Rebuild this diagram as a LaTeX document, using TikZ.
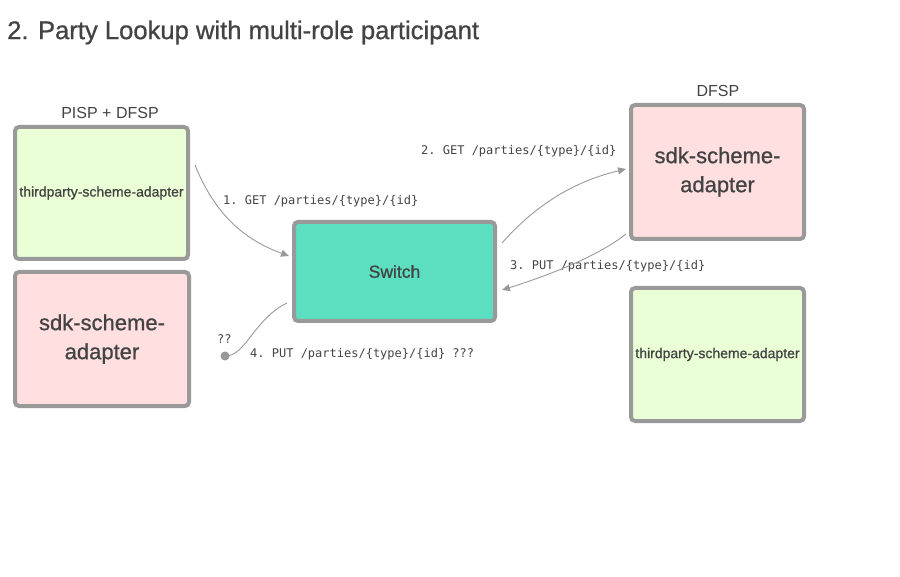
\documentclass[tikz,border=0pt]{standalone}
\usepackage{fontspec}
\setmainfont{Liberation Sans}
\setmonofont{DejaVu Sans Mono}
\newfontfamily\medfont{Liberation Sans}[FakeBold=0.8]
\usetikzlibrary{arrows.meta}
\definecolor{bordergray}{HTML}{999999}
\definecolor{txtgray}{HTML}{434343}
\definecolor{lightgreen}{HTML}{EAFFD6}
\definecolor{lightpink}{HTML}{FFDFE0}
\definecolor{teal}{HTML}{5CDEC0}
\begin{document}
\begin{tikzpicture}[x=1pt,y=-1pt,
  box/.style={draw=bordergray, line width=4pt, rounded corners=4pt, text=txtgray, align=center, inner sep=0pt},
  tpa/.style={box, fill=lightgreen, font=\medfont\fontsize{14}{16}\selectfont},
  sdk/.style={box, fill=lightpink, font=\medfont\fontsize{22}{29}\selectfont},
  swbox/.style={box, fill=teal, font=\medfont\fontsize{17.5}{20}\selectfont},
  grp/.style={text=txtgray, font=\fontsize{16}{18}\selectfont, inner sep=0pt},
  msg/.style={text=txtgray, font=\ttfamily\fontsize{12}{14}\selectfont, anchor=west, inner sep=0pt},
  conn/.style={draw=bordergray, line width=0.9pt, -{Triangle[length=8pt,width=7pt]}}
]
\useasboundingbox (0,0) rectangle (900,577);
\node[anchor=west, text=txtgray, font=\medfont\fontsize{25.6}{28}\selectfont, inner sep=0pt] (title) at (7,32.5) {2. Party Lookup with multi-role participant};

\node[tpa, minimum width=173pt, minimum height=132pt] (ta) at (101.5,193) {thirdparty-scheme-adapter};
\node[sdk, minimum width=174pt, minimum height=134pt] (sb) at (102,339) {sdk-scheme-\\adapter};
\node[swbox, minimum width=201pt, minimum height=99pt] (sw) at (394.5,271.5) {Switch};
\node[sdk, minimum width=173pt, minimum height=134pt] (sc) at (717.5,172) {sdk-scheme-\\adapter};
\node[tpa, minimum width=173pt, minimum height=133pt] (td) at (717.5,354.5) {thirdparty-scheme-adapter};

\node[grp] (g1) at (110,113) {PISP + DFSP};
\node[grp] (g2) at (718,91) {DFSP};

\node[msg] (m1) at (223,201) {1. GET /parties/\{type\}/\{id\}};
\node[msg] (m2) at (421,151) {2. GET /parties/\{type\}/\{id\}};
\node[msg] (m3) at (510,266) {3. PUT /parties/\{type\}/\{id\}};
\node[msg] (m4) at (250,354) {4. PUT /parties/\{type\}/\{id\} ???};
\node[msg] (qq) at (217,339) {??};

\node[circle, fill=bordergray, inner sep=0pt, minimum size=9pt] (dot) at (225,356) {};

\draw[conn] ([xshift=5pt,yshift=28pt]ta.east) .. controls (215,215) and (245,240) .. ([xshift=-3pt,yshift=15.5pt]sw.west);
\draw[conn] ([xshift=5pt,yshift=28.5pt]sw.east) .. controls (540,200) and (580,180) .. ([xshift=-3pt,yshift=3pt]sc.west);
\draw[conn] ([xshift=-3pt,yshift=-62pt]sc.west) .. controls (600,255) and (550,275) .. ([xshift=5pt,yshift=-18.5pt]sw.east);
\draw[draw=bordergray, line width=0.9pt] ([xshift=-5pt,yshift=-31.5pt]sw.west) .. controls (255,318) and (245,357) .. (dot.center);
\end{tikzpicture}
\end{document}
